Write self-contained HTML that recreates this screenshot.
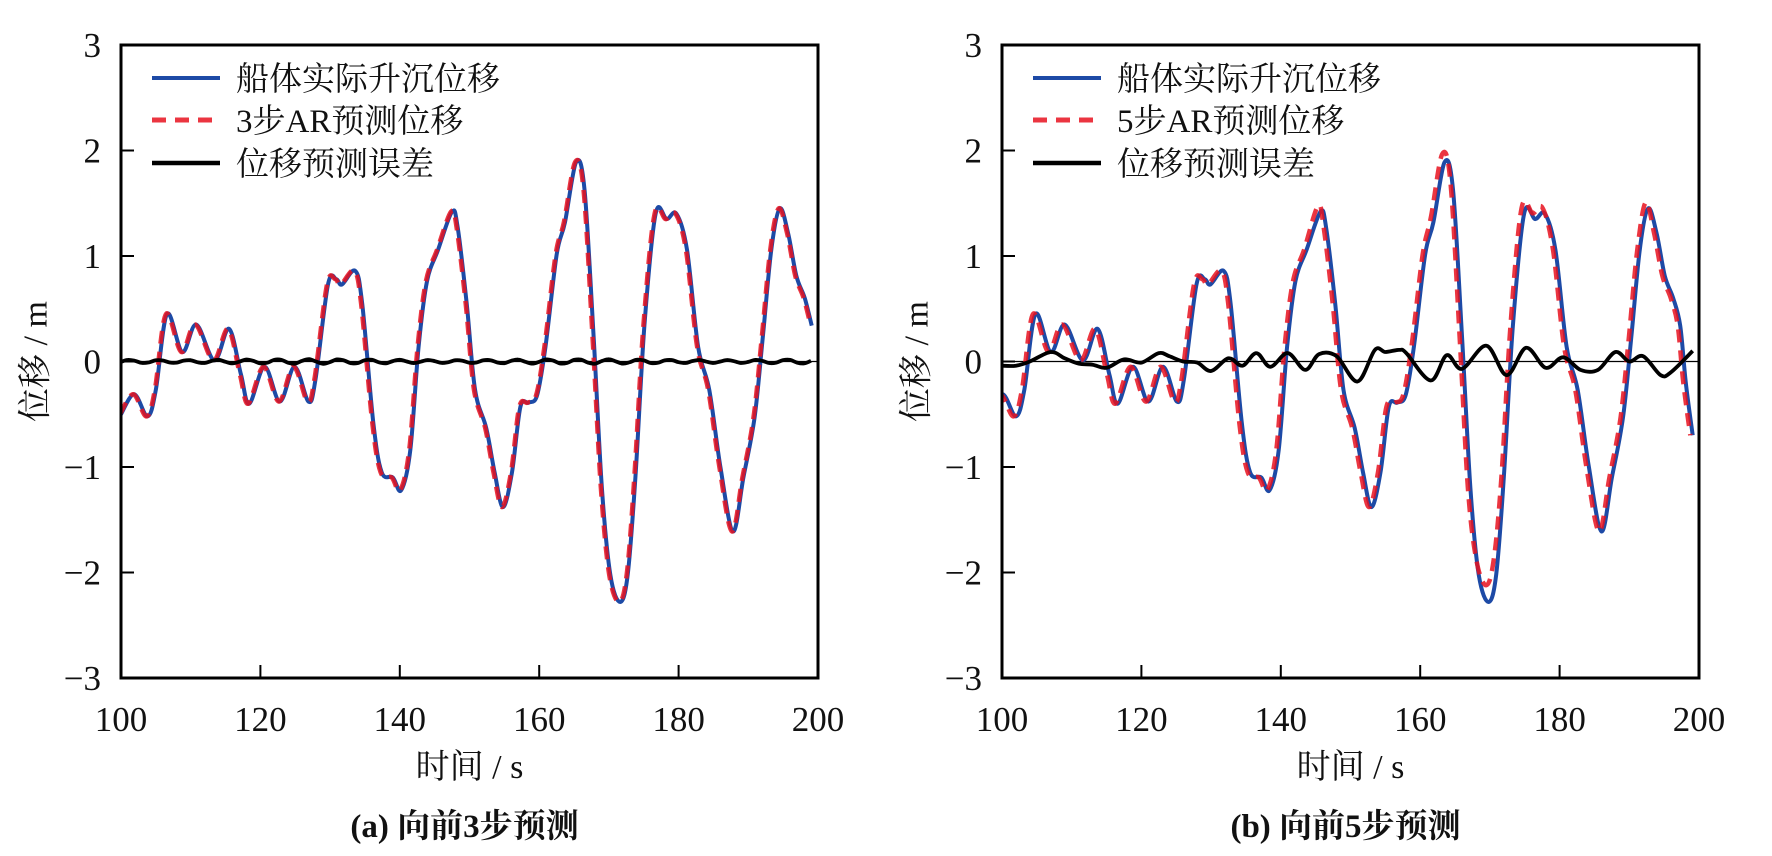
<!DOCTYPE html>
<html><head><meta charset="utf-8"><style>
html,body{margin:0;padding:0;background:#fff;}
svg text{font-family:"Liberation Serif","Noto Serif CJK SC","Noto Sans CJK SC",serif;fill:#111;}
</style></head><body>
<svg id="s" width="1772" height="851" viewBox="0 0 1772 851" xmlns="http://www.w3.org/2000/svg"></svg>
<script>
const B=[[100,-0.5],[101.9,-0.31],[103.8,-0.52],[105,-0.27],[106.6,0.45],[108.8,0.09],[110.8,0.35],[113.4,0.01],[115.5,0.31],[117.2,-0.12],[118.4,-0.4],[120.6,-0.05],[122.8,-0.38],[124.9,-0.05],[126.9,-0.38],[127.9,-0.17],[129.7,0.73],[130.9,0.78],[131.7,0.73],[133.6,0.86],[134.6,0.55],[136.2,-0.58],[137.4,-1.05],[139,-1.1],[140.2,-1.22],[141.5,-0.84],[142.7,0.14],[143.9,0.76],[145.5,1.06],[147.5,1.42],[148.3,1.27],[149.6,0.55],[150.8,-0.27],[152.4,-0.63],[153.6,-1.05],[154.8,-1.38],[156.1,-1.05],[157.3,-0.43],[158.5,-0.39],[159.7,-0.32],[160.9,0.14],[162.5,1.01],[163.7,1.32],[165.3,1.89],[166.5,1.63],[167.8,0.24],[169,-1.2],[170.2,-2.02],[171.6,-2.28],[172.7,-2.02],[173.8,-1.1],[175.1,0.34],[176.7,1.4],[178.3,1.35],[179.7,1.4],[181.2,1.06],[182.8,0.14],[184.4,-0.27],[186,-1.0],[187.8,-1.61],[189.3,-1.1],[190.9,-0.53],[192.1,0.24],[193.3,1.06],[194.5,1.45],[195.7,1.22],[196.9,0.81],[198.1,0.6],[199.1,0.34],[199.9,-0.2],[200.9,-0.7]];
const EL=[];for(let t=100;t<=199.2;t+=1){EL.push([t,0.018*Math.sin((t-100)*2*Math.PI/4.3)+0.004*Math.sin(t*1.3)]);}
const ER=[[100,-0.04],[102,-0.04],[104,0.0],[107,0.09],[109,0.03],[111,-0.02],[113,-0.03],[115,-0.06],[117.5,0.02],[120,-0.01],[122.5,0.08],[124,0.05],[126,0.0],[128,-0.01],[130,-0.09],[132.5,0.03],[134.5,-0.04],[136.5,0.08],[138.5,-0.05],[141,0.08],[143.5,-0.08],[145.5,0.07],[148,0.05],[151,-0.19],[153.5,0.11],[155,0.09],[157,0.11],[158,0.08],[161.5,-0.18],[163.8,0.06],[166,-0.07],[169.5,0.15],[172.4,-0.13],[175.2,0.13],[178,-0.06],[180.5,0.04],[183,-0.08],[185.5,-0.08],[188,0.09],[190,0.0],[192,0.05],[194.5,-0.13],[196,-0.1],[199.1,0.1]];
const Y0=45,Y1=678,W=697;
function path(pts,x0){const P=pts.map(p=>[x0+(p[0]-100)*W/100,Y0+(3-p[1])*(Y1-Y0)/6]);
let d='M'+P[0][0].toFixed(1)+','+P[0][1].toFixed(1);
for(let i=0;i<P.length-1;i++){const p0=P[Math.max(0,i-1)],p1=P[i],p2=P[i+1],p3=P[Math.min(P.length-1,i+2)];
const c1=[p1[0]+(p2[0]-p0[0])/6,p1[1]+(p2[1]-p0[1])/6],c2=[p2[0]-(p3[0]-p1[0])/6,p2[1]-(p3[1]-p1[1])/6];
d+='C'+c1.map(v=>v.toFixed(1))+' '+c2.map(v=>v.toFixed(1))+' '+p2[0].toFixed(1)+','+p2[1].toFixed(1);}return d;}
function clip(pts,a,b){return pts.filter(p=>p[0]>=a&&p[0]<=b);}
let h='<defs><clipPath id="c0"><rect x="121" y="45" width="697" height="633"/></clipPath><clipPath id="c1"><rect x="1002" y="45" width="697" height="633"/></clipPath></defs>';
function panel(x0,k){const red=k==0?B.map(p=>[p[0]-0.15,p[1]]):B.map(p=>[p[0]-1.8-0.35,p[1]>1.3?p[1]*1.04:(p[1]<-2?p[1]*0.93:p[1])]);
const blue=k==0?B:B.map(p=>[p[0]-1.8,p[1]]);
const E=k==0?EL:ER;const cx=x0+W/2;let s='';
s+=`<line x1="${x0}" y1="361.5" x2="${x0+W}" y2="361.5" stroke="#000" stroke-width="1.2"/>`;
s+=`<g clip-path="url(#c${k})"><path d="${path(clip(blue,95,199.3),x0)}" fill="none" stroke="#1d4aa6" stroke-width="4"/>`;
s+=`<path d="${path(clip(red,95,199.3),x0)}" fill="none" stroke="#e8121e" stroke-opacity="0.85" stroke-width="4.5" stroke-dasharray="13,8"/>`;
s+=`<path d="${path(E,x0)}" fill="none" stroke="#000" stroke-width="3.8"/></g>`;
s+=`<rect x="${x0}" y="${Y0}" width="${W}" height="${Y1-Y0}" fill="none" stroke="#000" stroke-width="3"/>`;
for(let i=0;i<=5;i++){const x=x0+i*W/5;if(i>0&&i<5)s+=`<line x1="${x}" y1="${Y1}" x2="${x}" y2="${Y1-13}" stroke="#000" stroke-width="2"/>`;
s+=`<text x="${x}" y="731" font-size="35" text-anchor="middle">${100+20*i}</text>`;}
for(let v=-3;v<=3;v++){const y=Y0+(3-v)*(Y1-Y0)/6;if(v>-3&&v<3)s+=`<line x1="${x0}" y1="${y}" x2="${x0+13}" y2="${y}" stroke="#000" stroke-width="2"/>`;
s+=`<text x="${x0-20}" y="${y+12}" font-size="35" text-anchor="end">${v<0?'\u2212'+(-v):v}</text>`;}
s+=`<text x="${cx}" y="778" font-size="34" text-anchor="middle">时间 / s</text>`;
s+=`<text transform="translate(${x0-85},361.5) rotate(-90)" font-size="34" text-anchor="middle" dominant-baseline="central">位移 / m</text>`;
s+=`<text x="${cx-5}" y="837" font-size="33" font-weight="bold" text-anchor="middle">(${k==0?'a':'b'}) 向前${k==0?3:5}步预测</text>`;
const lx=x0+31;
s+=`<line x1="${lx}" y1="78" x2="${lx+68}" y2="78" stroke="#1d4aa6" stroke-width="4"/>`;
s+=`<line x1="${lx}" y1="120" x2="${lx+68}" y2="120" stroke="#e8121e" stroke-opacity="0.85" stroke-width="5" stroke-dasharray="14,9"/>`;
s+=`<line x1="${lx}" y1="163" x2="${lx+68}" y2="163" stroke="#000" stroke-width="4.5"/>`;
s+=`<text x="${lx+84}" y="90" font-size="33">船体实际升沉位移</text>`;
s+=`<text x="${lx+84}" y="132" font-size="33">${k==0?3:5}步AR预测位移</text>`;
s+=`<text x="${lx+84}" y="175" font-size="33">位移预测误差</text>`;
return s;}
h+=panel(121,0)+panel(1002,1);
document.getElementById('s').innerHTML=h;
</script>
</body></html>
